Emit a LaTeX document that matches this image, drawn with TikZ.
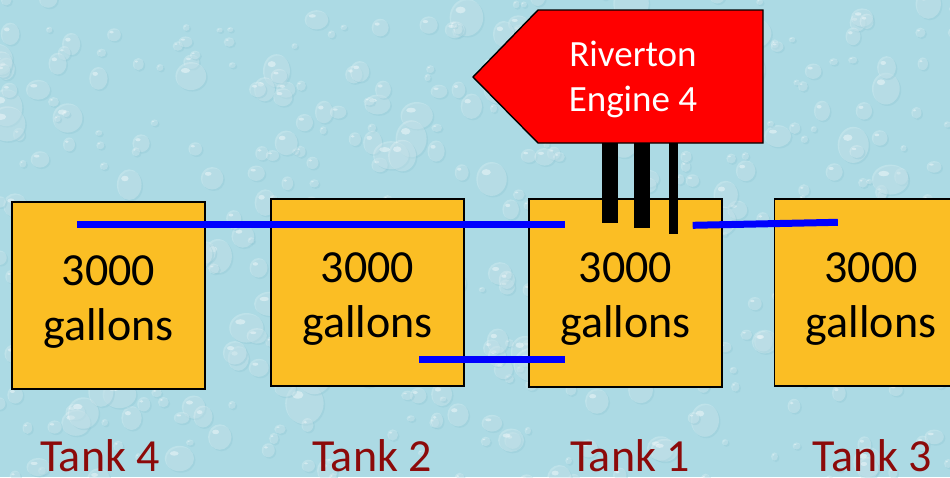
\documentclass[tikz,border=0pt]{standalone}
\usepackage{fontspec}
\setmainfont{Carlito}
\usetikzlibrary{calc}
\definecolor{bgblue}{RGB}{172,218,228}
\definecolor{dropdark}{RGB}{140,196,210}
\definecolor{tankfill}{RGB}{251,190,36}
\definecolor{labelred}{RGB}{140,10,10}
\newcommand{\tanktext}{\rule{0pt}{42pt}3000\\gallons}
\tikzset{
  tankbox/.style={draw=black, line width=1.4pt, fill=tankfill, minimum width=193pt, minimum height=187pt,
    align=center, inner sep=0pt, font=\fontsize{46}{55}\selectfont, text=black},
  tanklabel/.style={anchor=base, font=\fontsize{46}{55}\selectfont, text=labelred, inner sep=0pt},
  pipe/.style={draw=blue, line width=7pt},
  post/.style={fill=black, draw=none},
}
\begin{document}
\begin{tikzpicture}[x=1pt,y=-1pt]
\useasboundingbox (0,0) rectangle (950,477);
\begin{scope}
\clip (0,0) rectangle (950,477);
\fill[bgblue] (0,0) rectangle (950,477);
\pgfmathsetseed{7}
\foreach \i in {1,...,480}{
  \pgfmathsetmacro{\px}{rnd*960-5}
  \pgfmathsetmacro{\py}{rnd*490-5}
  \pgfmathsetmacro{\rr}{3+rnd*rnd*18}
  \pgfmathsetmacro{\ry}{\rr*(0.75+rnd*0.5)}
  \fill[dropdark, opacity=0.30] (\px+1.5,\py+1.5) ellipse[x radius=\rr, y radius=\ry];
  \fill[white, opacity=0.22] (\px,\py) ellipse[x radius=\rr, y radius=\ry];
  \fill[white, opacity=0.40] (\px-\rr*0.35,\py-\ry*0.4) ellipse[x radius=\rr*0.3, y radius=\ry*0.18];
}

% tanks
\node[tankbox] (t4) at (108.5,295.5) {\tanktext};
\node[tankbox] (t2) at (367.5,292.5) {\tanktext};
\node[tankbox, minimum height=188pt] (t1) at (625.5,293) {\tanktext};
\node[tankbox] (t3) at (871,292.5) {\tanktext};

% engine sign
\path[draw=black, line width=1.4pt, fill=red] (473,77) -- (538,10) -- (763,10) -- (763,143) -- (538,143) -- cycle;
\node[text=white, align=center, font=\fontsize{37}{45}\selectfont, inner sep=0pt] (engtxt) at (633,79) {Riverton\\Engine 4};

% posts
\fill[post] (602,143) rectangle (618,223);
\fill[post] (634,143) rectangle (650,228);
\fill[post] (669,143) rectangle (678,234);

% pipes
\coordinate (p1a) at ($(t4.north west)+(66,23)$);
\coordinate (p1b) at ($(t1.north west)+(37,26)$);
\coordinate (p2a) at ($(t2.north west)+(149,161)$);
\coordinate (p2b) at ($(t1.north west)+(37,161)$);
\coordinate (p3a) at ($(t1.north east)+(-30,27)$);
\coordinate (p3b) at ($(t3.north west)+(64,24)$);
\draw[pipe] (p1a) -- (p1b);
\draw[pipe] (p2a) -- (p2b);
\draw[pipe] (p3a) -- (p3b);

% labels
\node[tanklabel] (l4) at (100,471) {Tank 4};
\node[tanklabel] (l2) at (372,471) {Tank 2};
\node[tanklabel] (l1) at (630,471) {Tank 1};
\node[tanklabel] (l3) at (872,471) {Tank 3};
\end{scope}
\end{tikzpicture}
\end{document}
